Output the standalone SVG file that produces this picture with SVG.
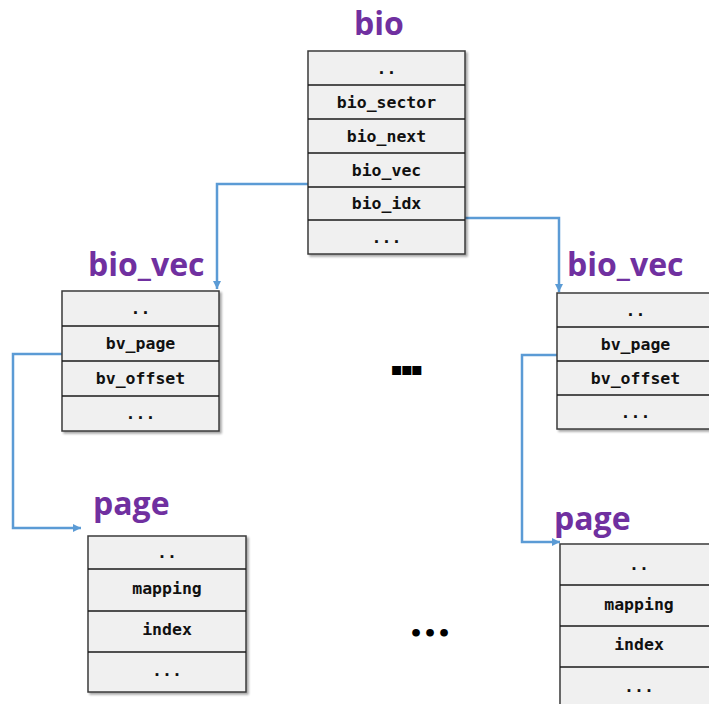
<svg xmlns="http://www.w3.org/2000/svg" width="709" height="704" viewBox="0 0 709 704">
<defs>
<filter id="sh" x="-10%" y="-10%" width="125%" height="125%">
<feDropShadow dx="2" dy="2" stdDeviation="1.2" flood-color="#000" flood-opacity="0.35"/>
</filter>
<marker id="ah" markerWidth="10" markerHeight="10" refX="8" refY="5" orient="auto" markerUnits="userSpaceOnUse">
<path d="M0,1 L8,5 L0,9 Z" fill="#5B9BD5"/>
</marker>
<style>
.box{fill:#F0F0F0;stroke:#3A3A3A;stroke-width:1.5}
.sep{stroke:#1A1A1A;stroke-width:1.3}
.f{font-family:"DejaVu Sans Mono","Liberation Mono",monospace;font-weight:bold;font-size:16.5px;fill:#111;text-anchor:middle}
.t{font-family:"Open Sans","Liberation Sans",sans-serif;font-weight:bold;font-size:32px;fill:#7030A0}
.c{fill:none;stroke:#5B9BD5;stroke-width:2.5}
.e{font-family:"DejaVu Sans",sans-serif;font-weight:bold;fill:#000;text-anchor:middle}
</style>
</defs>

<g id="connectors">
<path class="c" d="M308,184 H217 V289" marker-end="url(#ah)"/>
<path class="c" d="M465,218 H559 V292" marker-end="url(#ah)"/>
<path class="c" d="M62,354 H13 V528 H81" marker-end="url(#ah)"/>
<path class="c" d="M557,355 H522 V542 H560" marker-end="url(#ah)"/>
</g>

<g id="bio">
<text class="t" x="379" y="35" text-anchor="middle">bio</text>
<rect class="box" x="308" y="51" width="157" height="203" filter="url(#sh)"/>
<line class="sep" x1="308" y1="85" x2="465" y2="85"/>
<line class="sep" x1="308" y1="119" x2="465" y2="119"/>
<line class="sep" x1="308" y1="153" x2="465" y2="153"/>
<line class="sep" x1="308" y1="187" x2="465" y2="187"/>
<line class="sep" x1="308" y1="220" x2="465" y2="220"/>
<text class="f" x="386.5" y="74">..</text>
<text class="f" x="386.5" y="108">bio_sector</text>
<text class="f" x="386.5" y="142">bio_next</text>
<text class="f" x="386.5" y="176">bio_vec</text>
<text class="f" x="386.5" y="209">bio_idx</text>
<text class="f" x="386.5" y="243">...</text>
</g>

<g id="bio_vec_left">
<text class="t" x="88" y="276">bio_vec</text>
<rect class="box" x="62" y="291" width="157" height="140" filter="url(#sh)"/>
<line class="sep" x1="62" y1="326" x2="219" y2="326"/>
<line class="sep" x1="62" y1="361" x2="219" y2="361"/>
<line class="sep" x1="62" y1="396" x2="219" y2="396"/>
<text class="f" x="140.5" y="314">..</text>
<text class="f" x="140.5" y="349">bv_page</text>
<text class="f" x="140.5" y="384">bv_offset</text>
<text class="f" x="140.5" y="419">...</text>
</g>

<g id="bio_vec_right">
<text class="t" x="567" y="276">bio_vec</text>
<rect class="box" x="557" y="293" width="157" height="136" filter="url(#sh)"/>
<line class="sep" x1="557" y1="327" x2="714" y2="327"/>
<line class="sep" x1="557" y1="361" x2="714" y2="361"/>
<line class="sep" x1="557" y1="395" x2="714" y2="395"/>
<text class="f" x="635.5" y="316">..</text>
<text class="f" x="635.5" y="350">bv_page</text>
<text class="f" x="635.5" y="384">bv_offset</text>
<text class="f" x="635.5" y="418">...</text>
</g>

<g id="page_left">
<text class="t" x="93" y="515">page</text>
<rect class="box" x="88" y="536" width="158" height="156" filter="url(#sh)"/>
<line class="sep" x1="88" y1="569" x2="246" y2="569"/>
<line class="sep" x1="88" y1="611" x2="246" y2="611"/>
<line class="sep" x1="88" y1="652" x2="246" y2="652"/>
<text class="f" x="167" y="558">..</text>
<text class="f" x="167" y="594">mapping</text>
<text class="f" x="167" y="635">index</text>
<text class="f" x="167" y="676">...</text>
</g>

<g id="page_right">
<text class="t" x="554" y="530">page</text>
<rect class="box" x="560" y="544" width="158" height="170" filter="url(#sh)"/>
<line class="sep" x1="560" y1="585" x2="718" y2="585"/>
<line class="sep" x1="560" y1="626" x2="718" y2="626"/>
<line class="sep" x1="560" y1="667" x2="718" y2="667"/>
<text class="f" x="639" y="570">..</text>
<text class="f" x="639" y="610">mapping</text>
<text class="f" x="639" y="650">index</text>
<text class="f" x="639" y="692">...</text>
</g>

<g id="ellipses">
<text class="e" x="405.5" y="374.5" font-size="18" letter-spacing="-2">▪▪▪</text>
<text class="e" x="430" y="641" font-size="22">•••</text>
</g>
</svg>
